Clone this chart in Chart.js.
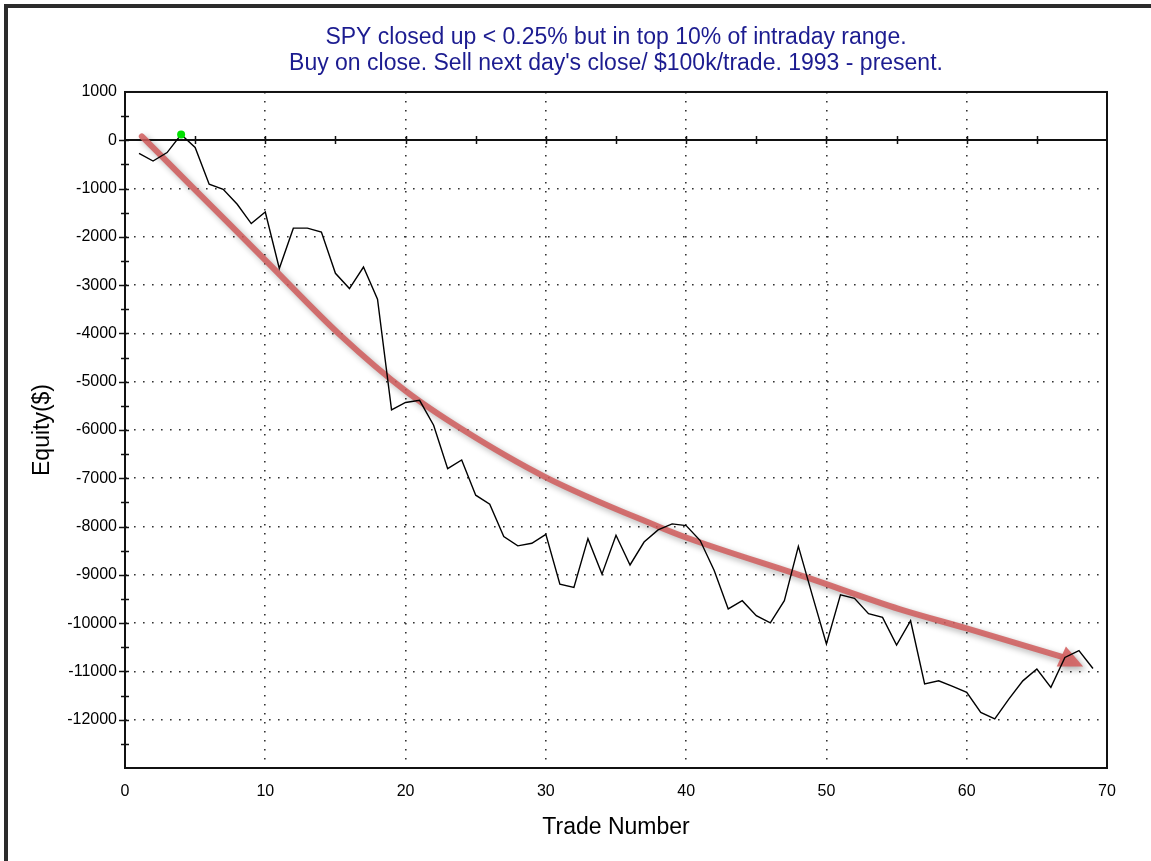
<!DOCTYPE html>
<html>
<head>
<meta charset="utf-8">
<script src="https://cdn.jsdelivr.net/npm/chart.js@4.4.0/dist/chart.umd.min.js"></script>
<style>
  html, body { margin: 0; padding: 0; background: #fff; }
  canvas { display: block; }
</style>
</head>
<body>
<canvas id="equityChart" width="1151" height="861"></canvas>
<script>
// Chart text
const titleLines = [
    'SPY closed up < 0.25% but in top 10% of intraday range.',
    "Buy on close. Sell next day's close/ $100k/trade. 1993 - present."
];
const xTitle = 'Trade Number';
const yTitle = 'Equity($)';

// Equity curve, one value per trade
const tradeNumbers = [
    1, 2, 3, 4, 5, 6, 7, 8, 9, 10,
    11, 12, 13, 14, 15, 16, 17, 18, 19, 20,
    21, 22, 23, 24, 25, 26, 27, 28, 29, 30,
    31, 32, 33, 34, 35, 36, 37, 38, 39, 40,
    41, 42, 43, 44, 45, 46, 47, 48, 49, 50,
    51, 52, 53, 54, 55, 56, 57, 58, 59, 60,
    61, 62, 63, 64, 65, 66, 67, 68, 69
];
const equity = [
    -270, -430, -255, 120, -150, -910, -1015, -1325, -1725, -1485,
    -2655, -1820, -1820, -1900, -2755, -3070, -2625, -3290, -5585, -5430,
    -5385, -5900, -6800, -6620, -7350, -7535, -8205, -8400, -8345, -8160,
    -9195, -9260, -8250, -8985, -8180, -8795, -8320, -8070, -7945, -7980,
    -8290, -8910, -9705, -9535, -9845, -9995, -9535, -8410, -9430, -10430,
    -9415, -9485, -9805, -9880, -10455, -9950, -11260, -11195, -11310, -11435,
    -11850, -11985, -11575, -11195, -10950, -11330, -10710, -10570, -10940
];

// Peak equity marker (green dot)
const peakTrade = [4];
const peakEquity = [120];

// Hand-drawn trend arrow (trade number, equity)
const arrowX = [1.2, 5, 10, 15.4, 20, 24, 30, 38, 40, 48.6, 55.2, 60, 66.8];
const arrowY = [80, -1025, -2480, -4050, -5190, -5980, -6980, -7998, -8226, -9054, -9710, -10110, -10700];
const arrowTip = [68.3, -10900];

// Axis ranges
const xRange = [0, 70];
const yRange = [-13000, 1000];

const FONT = "'Liberation Sans', Arial, sans-serif";

// Background, window frame, zero line, box and axis ticks
const decorPlugin = {
    id: 'decor',
    beforeDraw(chart) {
        const ctx = chart.ctx;
        ctx.save();
        ctx.fillStyle = '#ffffff';
        ctx.fillRect(0, 0, chart.width, chart.height);
        ctx.fillStyle = '#2b2b2b';
        ctx.fillRect(4, 4, chart.width - 4, 4);
        ctx.fillRect(4, 4, 4, chart.height - 4);
        ctx.restore();
    },
    beforeDatasetsDraw(chart) {
        const ctx = chart.ctx;
        const area = chart.chartArea;
        const xs = chart.scales.x;
        const ys = chart.scales.y;
        ctx.save();
        ctx.strokeStyle = '#111';

        // zero line
        const y0 = Math.round(ys.getPixelForValue(0));
        ctx.lineWidth = 2;
        ctx.beginPath();
        ctx.moveTo(area.left, y0);
        ctx.lineTo(area.right, y0);
        ctx.stroke();

        // small ticks across the zero line, every 5 trades
        ctx.lineWidth = 1.5;
        for (let t = 5; t < xRange[1]; t += 5) {
            const px = Math.round(xs.getPixelForValue(t)) + 0.5;
            ctx.beginPath();
            ctx.moveTo(px, y0 - 4);
            ctx.lineTo(px, y0 + 4);
            ctx.stroke();
        }

        // ticks across the y axis, every 500
        for (let v = yRange[0] + 500; v < yRange[1]; v += 500) {
            const py = Math.round(ys.getPixelForValue(v)) + 0.5;
            const major = v % 1000 === 0;
            ctx.beginPath();
            ctx.moveTo(area.left - (major ? 6 : 4), py);
            ctx.lineTo(area.left + 4, py);
            ctx.stroke();
        }

        // plot box
        ctx.lineWidth = 2;
        ctx.strokeRect(area.left, area.top, area.right - area.left, area.bottom - area.top);
        ctx.restore();
    }
};

// Shadow and head for the trend arrow
const arrowPlugin = {
    id: 'arrow',
    beforeDatasetDraw(chart, args) {
        if (args.meta.label !== 'trend') return;
        const ctx = chart.ctx;
        ctx.save();
        ctx.shadowColor = 'rgba(0, 0, 0, 0.35)';
        ctx.shadowBlur = 6;
        ctx.shadowOffsetX = 3;
        ctx.shadowOffsetY = 3;
    },
    afterDatasetDraw(chart, args) {
        if (args.meta.label !== 'trend') return;
        const ctx = chart.ctx;
        const xs = chart.scales.x;
        const ys = chart.scales.y;
        const pts = args.meta.data;
        const last = pts[pts.length - 1];
        const tx = xs.getPixelForValue(arrowTip[0]);
        const ty = ys.getPixelForValue(arrowTip[1]);
        const ang = Math.atan2(ty - last.y, tx - last.x);
        const len = 24, half = 11;
        const bx = tx - len * Math.cos(ang);
        const by = ty - len * Math.sin(ang);
        ctx.fillStyle = 'rgba(212, 96, 96, 0.9)';
        ctx.beginPath();
        ctx.moveTo(tx, ty);
        ctx.lineTo(bx + half * Math.sin(ang), by - half * Math.cos(ang));
        ctx.lineTo(bx - half * Math.sin(ang), by + half * Math.cos(ang));
        ctx.closePath();
        ctx.fill();
        ctx.restore();
    }
};

function initializeChart() {
    const ctx = document.getElementById('equityChart');
    window.chart = new Chart(ctx, {
        type: 'line',
        data: {
            datasets: [{
                label: 'equity',
                data: tradeNumbers.map((t, i) => ({ x: t, y: equity[i] })),
                borderColor: '#000',
                borderWidth: 1.4,
                pointRadius: 0,
                tension: 0,
                fill: false,
                order: 1
            }, {
                label: 'trend',
                data: arrowX.map((t, i) => ({ x: t, y: arrowY[i] })),
                borderColor: 'rgba(208, 92, 92, 0.85)',
                borderWidth: 6,
                borderCapStyle: 'round',
                pointRadius: 0,
                cubicInterpolationMode: 'monotone',
                fill: false,
                order: 2
            }, {
                label: 'peak',
                data: peakTrade.map((t, i) => ({ x: t, y: peakEquity[i] })),
                showLine: false,
                pointRadius: 4,
                pointBackgroundColor: '#00e000',
                pointBorderWidth: 0,
                order: 0
            }]
        },
        options: {
            responsive: false,
            animation: false,
            events: [],
            layout: {
                padding: { left: 0, right: 44, top: 25, bottom: 17 }
            },
            plugins: {
                legend: { display: false },
                tooltip: { enabled: false },
                title: {
                    display: true,
                    fullSize: false,
                    text: titleLines,
                    color: '#1c1c90',
                    font: { family: FONT, size: 23, weight: 'normal', lineHeight: 1.13 },
                    padding: { top: 0, bottom: 15 }
                }
            },
            scales: {
                x: {
                    type: 'linear',
                    min: xRange[0],
                    max: xRange[1],
                    afterFit: scale => { scale.height = 76; },
                    ticks: {
                        stepSize: 10,
                        color: '#000',
                        padding: 14,
                        maxRotation: 0,
                        font: { family: FONT, size: 16 }
                    },
                    grid: {
                        drawTicks: false,
                        lineWidth: 1.6,
                        color: c => (c.tick && (c.tick.value === xRange[0] || c.tick.value === xRange[1]))
                            ? 'rgba(0,0,0,0)' : '#333'
                    },
                    border: { display: false, dash: [1.6, 7.4] },
                    title: {
                        display: true,
                        text: xTitle,
                        color: '#000',
                        font: { family: FONT, size: 23 },
                        padding: { top: 3, bottom: 3 }
                    }
                },
                y: {
                    min: yRange[0],
                    max: yRange[1],
                    afterFit: scale => { scale.width = 125; },
                    ticks: {
                        stepSize: 1000,
                        color: '#000',
                        padding: 8,
                        font: { family: FONT, size: 16 },
                        callback: v => (v === yRange[0] ? '' : String(v))
                    },
                    grid: {
                        drawTicks: false,
                        lineWidth: 1.6,
                        color: c => (c.tick && (c.tick.value === 0 || c.tick.value === yRange[0] || c.tick.value === yRange[1]))
                            ? 'rgba(0,0,0,0)' : '#333'
                    },
                    border: { display: false, dash: [1.6, 7.4] },
                    title: {
                        display: true,
                        text: yTitle,
                        color: '#000',
                        font: { family: FONT, size: 23 },
                        padding: { top: 29, bottom: 0 }
                    }
                }
            }
        },
        plugins: [decorPlugin, arrowPlugin]
    });
}

initializeChart();
</script>
</body>
</html>
